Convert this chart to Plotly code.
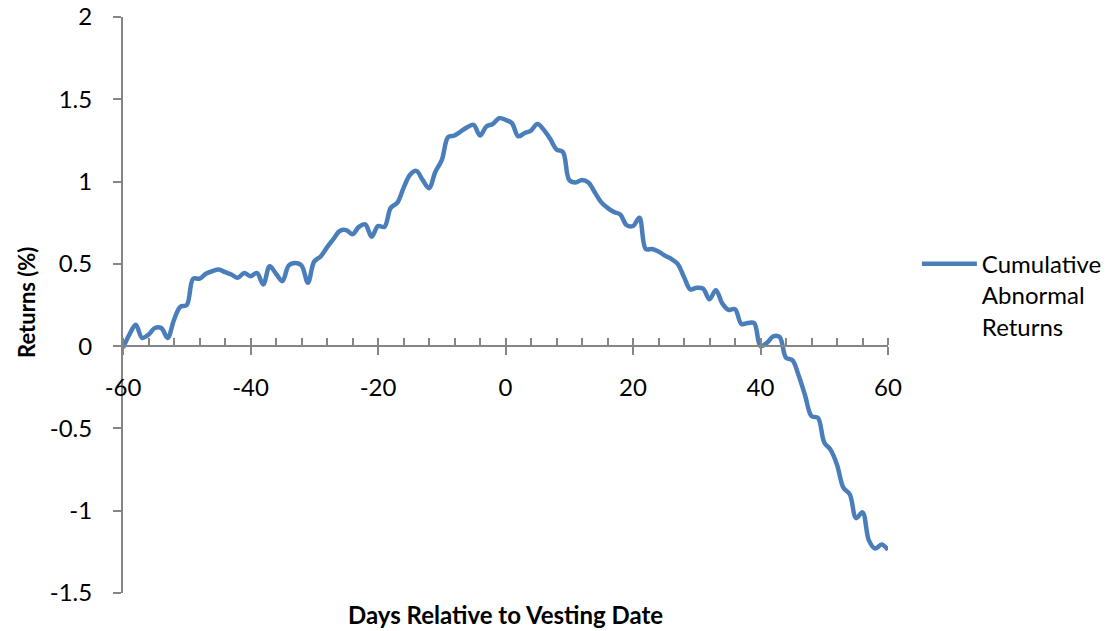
import plotly.graph_objects as go

# Event window: trading days relative to the vesting date
days = list(range(-60, 61))

# Cumulative abnormal returns (%) for each day of the window
car = [
    -0.01, 0.07, 0.13, 0.05, 0.07, 0.11, 0.11, 0.05, 0.16, 0.24,
    0.25, 0.41, 0.41, 0.44, 0.455, 0.465, 0.45, 0.435, 0.415, 0.445,
    0.425, 0.445, 0.375, 0.485, 0.44, 0.395, 0.49, 0.505, 0.49, 0.385,
    0.515, 0.545, 0.60, 0.65, 0.70, 0.705, 0.68, 0.725, 0.74, 0.665,
    0.73, 0.725, 0.84, 0.87, 0.96, 1.04, 1.065, 1.01, 0.96, 1.06,
    1.13, 1.27, 1.28, 1.305, 1.33, 1.345, 1.28, 1.335, 1.35, 1.385,
    1.375, 1.355, 1.275, 1.295, 1.31, 1.35, 1.315, 1.26, 1.195, 1.18,
    1.01, 0.995, 1.01, 0.995, 0.935, 0.875, 0.84, 0.815, 0.80, 0.735,
    0.73, 0.78, 0.59, 0.59, 0.575, 0.55, 0.53, 0.50, 0.42, 0.345,
    0.355, 0.35, 0.285, 0.34, 0.26, 0.22, 0.225, 0.135, 0.14, 0.14,
    0.0, 0.02, 0.06, 0.055, -0.07, -0.085, -0.18, -0.30, -0.425, -0.435,
    -0.585, -0.63, -0.72, -0.86, -0.90, -1.045, -1.01, -1.18, -1.23, -1.205,
    -1.238,
]

series_name = "Cumulative<br>Abnormal<br>Returns"
x_title = "Days Relative to Vesting Date"
y_title = "Returns (%)"
x_ticks = [-60, -40, -20, 0, 20, 40, 60]
x_ticktext = ["-60", "-40", "-20", "0", "20", "40", "60"]
y_ticks = [-1.5, -1, -0.5, 0, 0.5, 1, 1.5, 2]
y_ticktext = ["-1.5", "-1", "-0.5", "0", "0.5", "1", "1.5", "2"]

FONT = "Lato"
AXIS_GREY = "#868686"
LINE_BLUE = "#4A7EBB"
Y_MIN, Y_MAX = -1.5, 2.0
zero_pos = (0 - Y_MIN) / (Y_MAX - Y_MIN)

fig = go.Figure()
fig.add_trace(go.Scatter(
    x=days, y=car, mode="lines", name=series_name,
    line=dict(color=LINE_BLUE, width=4.5, shape="spline", smoothing=1.0),
))

fig.update_layout(
    width=1106, height=631,
    margin=dict(l=123, r=218, t=17, b=38),
    paper_bgcolor="white", plot_bgcolor="white",
    font=dict(family=FONT, size=24, color="black"),
    showlegend=True,
    legend=dict(
        xref="container", yref="container",
        x=0.829, y=0.617, xanchor="left", yanchor="top",
        font=dict(family=FONT, size=24, color="black"),
        valign="top", bgcolor="rgba(0,0,0,0)", itemwidth=55,
    ),
    xaxis=dict(
        range=[-60, 60], tickvals=x_ticks, ticktext=x_ticktext,
        showgrid=False, zeroline=False, automargin=False,
        anchor="free", position=zero_pos,
        showline=True, linecolor=AXIS_GREY, linewidth=2,
        ticks="outside", ticklen=8, tickwidth=2, tickcolor=AXIS_GREY,
        ticklabelstandoff=12,
        minor=dict(ticks="inside", dtick=4, tick0=-60, ticklen=7,
                   tickwidth=2, tickcolor=AXIS_GREY, showgrid=False),
    ),
    xaxis2=dict(
        range=[-60, 60], tickvals=x_ticks, overlaying="x",
        anchor="free", position=zero_pos, side="bottom", automargin=False,
        showgrid=False, zeroline=False, showline=False, showticklabels=False,
        ticks="inside", ticklen=8, tickwidth=2, tickcolor=AXIS_GREY,
    ),
    yaxis=dict(
        range=[Y_MIN, Y_MAX], tickvals=y_ticks, ticktext=y_ticktext,
        showgrid=False, zeroline=False, automargin=False,
        showline=True, linecolor=AXIS_GREY, linewidth=2,
        ticks="outside", ticklen=8, tickwidth=2, tickcolor=AXIS_GREY,
        ticklabelstandoff=16,
    ),
    annotations=[
        dict(text=f"<b>{x_title}</b>", xref="paper", yref="paper",
             x=0.5, y=-0.038, xanchor="center", yanchor="middle",
             showarrow=False, font=dict(family=FONT, size=24)),
        dict(text=f"<b>{y_title}</b>", xref="paper", yref="paper",
             x=-0.127, y=0.505, xanchor="center", yanchor="middle", textangle=-90,
             showarrow=False, font=dict(family=FONT, size=22)),
    ],
)

# invisible companion trace so the overlay axis carrying the inner major ticks is drawn
fig.add_trace(go.Scatter(x=[None], y=[None], xaxis="x2", showlegend=False,
                         hoverinfo="skip"))

fig.write_html("out.html")
